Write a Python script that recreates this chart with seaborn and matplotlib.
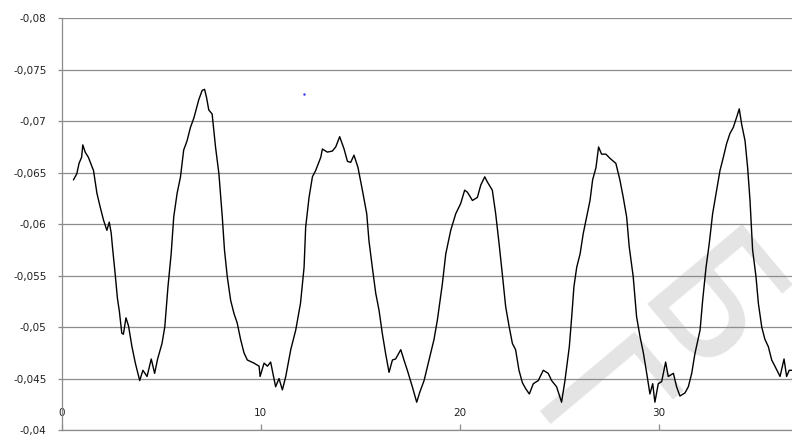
import matplotlib
matplotlib.use("Agg")
import matplotlib.pyplot as plt
from matplotlib.ticker import FuncFormatter
import seaborn as sns
import pandas as pd

# time axis (s) and measured signal
time = [
    0.59, 0.76, 0.87, 1.00, 1.06, 1.18, 1.34, 1.60, 1.77, 1.93, 2.10, 2.27, 2.39, 2.49, 2.55,
    2.69, 2.80, 2.90, 3.02, 3.10, 3.23, 3.36, 3.53, 3.70, 3.92, 4.08, 4.29, 4.50, 4.67, 4.82,
    5.04, 5.18, 5.34, 5.50, 5.63, 5.80, 5.97, 6.13, 6.30, 6.47, 6.64, 6.89, 7.06, 7.18, 7.28,
    7.39, 7.56, 7.73, 7.90, 8.07, 8.18, 8.32, 8.49, 8.66, 8.82, 8.99, 9.16, 9.33, 9.66, 9.92,
    9.97, 10.17, 10.34, 10.50, 10.75, 10.92, 11.09, 11.26, 11.51, 11.76, 12.00, 12.18, 12.26, 12.43, 12.60,
    12.76, 13.02, 13.10, 13.35, 13.60, 13.77, 13.97, 14.19, 14.36, 14.52, 14.69, 14.89, 15.11, 15.33, 15.44,
    15.61, 15.78, 15.95, 16.11, 16.28, 16.45, 16.62, 16.78, 17.04, 17.20, 17.37, 17.62, 17.84, 18.00, 18.21,
    18.46, 18.71, 18.88, 19.13, 19.30, 19.55, 19.80, 20.05, 20.25, 20.39, 20.64, 20.89, 21.06, 21.26, 21.39,
    21.64, 21.81, 21.98, 22.14, 22.31, 22.48, 22.65, 22.81, 22.98, 23.15, 23.32, 23.50, 23.70, 23.95, 24.20,
    24.45, 24.62, 24.87, 25.12, 25.29, 25.51, 25.63, 25.74, 25.88, 26.05, 26.21, 26.38, 26.55, 26.68, 26.85,
    26.98, 27.13, 27.35, 27.55, 27.85, 28.05, 28.22, 28.39, 28.52, 28.72, 28.89, 29.06, 29.23, 29.40, 29.56,
    29.70, 29.81, 29.98, 30.15, 30.35, 30.48, 30.74, 30.90, 31.07, 31.32, 31.49, 31.66, 31.82, 32.08, 32.21,
    32.38, 32.54, 32.71, 32.91, 33.08, 33.25, 33.41, 33.58, 33.75, 33.92, 34.05, 34.17, 34.34, 34.47, 34.59,
    34.72, 34.89, 35.01, 35.18, 35.34, 35.51, 35.68, 35.84, 36.10, 36.30, 36.43, 36.56, 36.70,
]
signal = [
    -0.0643, -0.0649, -0.0659, -0.0665, -0.0677, -0.0670, -0.0665, -0.0652, -0.0630, -0.0617, -0.0604, -0.0594, -0.0602, -0.0591, -0.0578,
    -0.0551, -0.0528, -0.0515, -0.0494, -0.0493, -0.0509, -0.0501, -0.0481, -0.0465, -0.0448, -0.0458, -0.0452, -0.0469, -0.0455, -0.0469,
    -0.0484, -0.0500, -0.0539, -0.0571, -0.0607, -0.0630, -0.0646, -0.0672, -0.0681, -0.0694, -0.0703, -0.0721, -0.0730, -0.0731, -0.0723,
    -0.0711, -0.0707, -0.0675, -0.0649, -0.0607, -0.0575, -0.0549, -0.0526, -0.0513, -0.0504, -0.0488, -0.0475, -0.0468, -0.0465, -0.0462,
    -0.0452, -0.0465, -0.0462, -0.0466, -0.0442, -0.0450, -0.0439, -0.0452, -0.0478, -0.0497, -0.0523, -0.0558, -0.0597, -0.0626, -0.0646,
    -0.0652, -0.0665, -0.0673, -0.0670, -0.0671, -0.0675, -0.0685, -0.0673, -0.0661, -0.0660, -0.0667, -0.0655, -0.0633, -0.0610, -0.0584,
    -0.0558, -0.0533, -0.0516, -0.0494, -0.0474, -0.0456, -0.0468, -0.0469, -0.0478, -0.0468, -0.0458, -0.0442, -0.0427, -0.0437, -0.0448,
    -0.0468, -0.0488, -0.0507, -0.0542, -0.0571, -0.0594, -0.0610, -0.0620, -0.0633, -0.0631, -0.0623, -0.0626, -0.0638, -0.0646, -0.0641,
    -0.0633, -0.0610, -0.0581, -0.0552, -0.0520, -0.0501, -0.0484, -0.0478, -0.0458, -0.0446, -0.0440, -0.0435, -0.0445, -0.0448, -0.0458,
    -0.0455, -0.0448, -0.0442, -0.0427, -0.0448, -0.0481, -0.0510, -0.0539, -0.0558, -0.0571, -0.0591, -0.0607, -0.0623, -0.0643, -0.0655,
    -0.0675, -0.0668, -0.0668, -0.0664, -0.0659, -0.0643, -0.0626, -0.0607, -0.0578, -0.0549, -0.0510, -0.0491, -0.0475, -0.0455, -0.0435,
    -0.0445, -0.0427, -0.0445, -0.0447, -0.0466, -0.0452, -0.0455, -0.0442, -0.0433, -0.0436, -0.0442, -0.0455, -0.0474, -0.0497, -0.0526,
    -0.0558, -0.0581, -0.0610, -0.0633, -0.0652, -0.0665, -0.0678, -0.0688, -0.0694, -0.0704, -0.0712, -0.0697, -0.0681, -0.0655, -0.0623,
    -0.0575, -0.0549, -0.0523, -0.0500, -0.0488, -0.0481, -0.0468, -0.0462, -0.0452, -0.0469, -0.0452, -0.0458, -0.0458,
]

# single stray sample of the second series
marker_time = [12.18]
marker_value = [-0.0726]

x_ticks = [0, 10, 20, 30]
y_ticks = [-0.08, -0.075, -0.07, -0.065, -0.06, -0.055, -0.05, -0.045, -0.04]

sns.set_theme(style="white")
plt.rcParams["font.family"] = ["DejaVu Sans"]

fig = plt.figure(figsize=(7.92, 4.38), dpi=100)
ax = fig.add_axes([0.0779, 0.0183, 0.9221, 0.9399])

df = pd.DataFrame({"t": time, "v": signal})
sns.lineplot(data=df, x="t", y="v", ax=ax, color="black", linewidth=1.0,
             estimator=None, sort=False, zorder=3)
sns.scatterplot(x=marker_time, y=marker_value, ax=ax, color="#3333ff",
                s=3, linewidth=0, zorder=3)

ax.set_xlim(0, 36.7)
ax.set_ylim(-0.04, -0.08)
ax.set_xticks(x_ticks)
ax.set_yticks(y_ticks)
ax.yaxis.set_major_formatter(FuncFormatter(lambda v, p: f"{v:g}".replace(".", ",")))
ax.xaxis.set_major_formatter(FuncFormatter(lambda v, p: f"{v:g}"))
ax.set_xlabel("")
ax.set_ylabel("")

ax.set_axisbelow(True)
ax.grid(axis="y", color="#8c8c8c", linewidth=0.9)
ax.grid(axis="x", visible=False)

for side in ("top", "right"):
    ax.spines[side].set_visible(False)
for side in ("left", "bottom"):
    ax.spines[side].set_color("#8c8c8c")
    ax.spines[side].set_linewidth(0.9)

ax.tick_params(axis="y", direction="out", length=3, width=0.9, color="#8c8c8c",
               labelsize=7.5, labelcolor="#222222", pad=8, left=True)
ax.tick_params(axis="x", direction="in", length=4, width=0.9, color="#8c8c8c",
               labelsize=7.5, labelcolor="#222222", pad=-16, bottom=True)

# faint diagonal watermark letters, clipped by the plot area
for letter, fx, fy in (("Б", 0.878, 0.274), ("Г", 0.725, 0.024)):
    ax.text(fx, fy, letter, transform=ax.transAxes, rotation=-50,
            fontsize=122, color="#e4e4e4", ha="center", va="center",
            zorder=0.2, clip_on=True)

fig.savefig("out.png", dpi=100)
